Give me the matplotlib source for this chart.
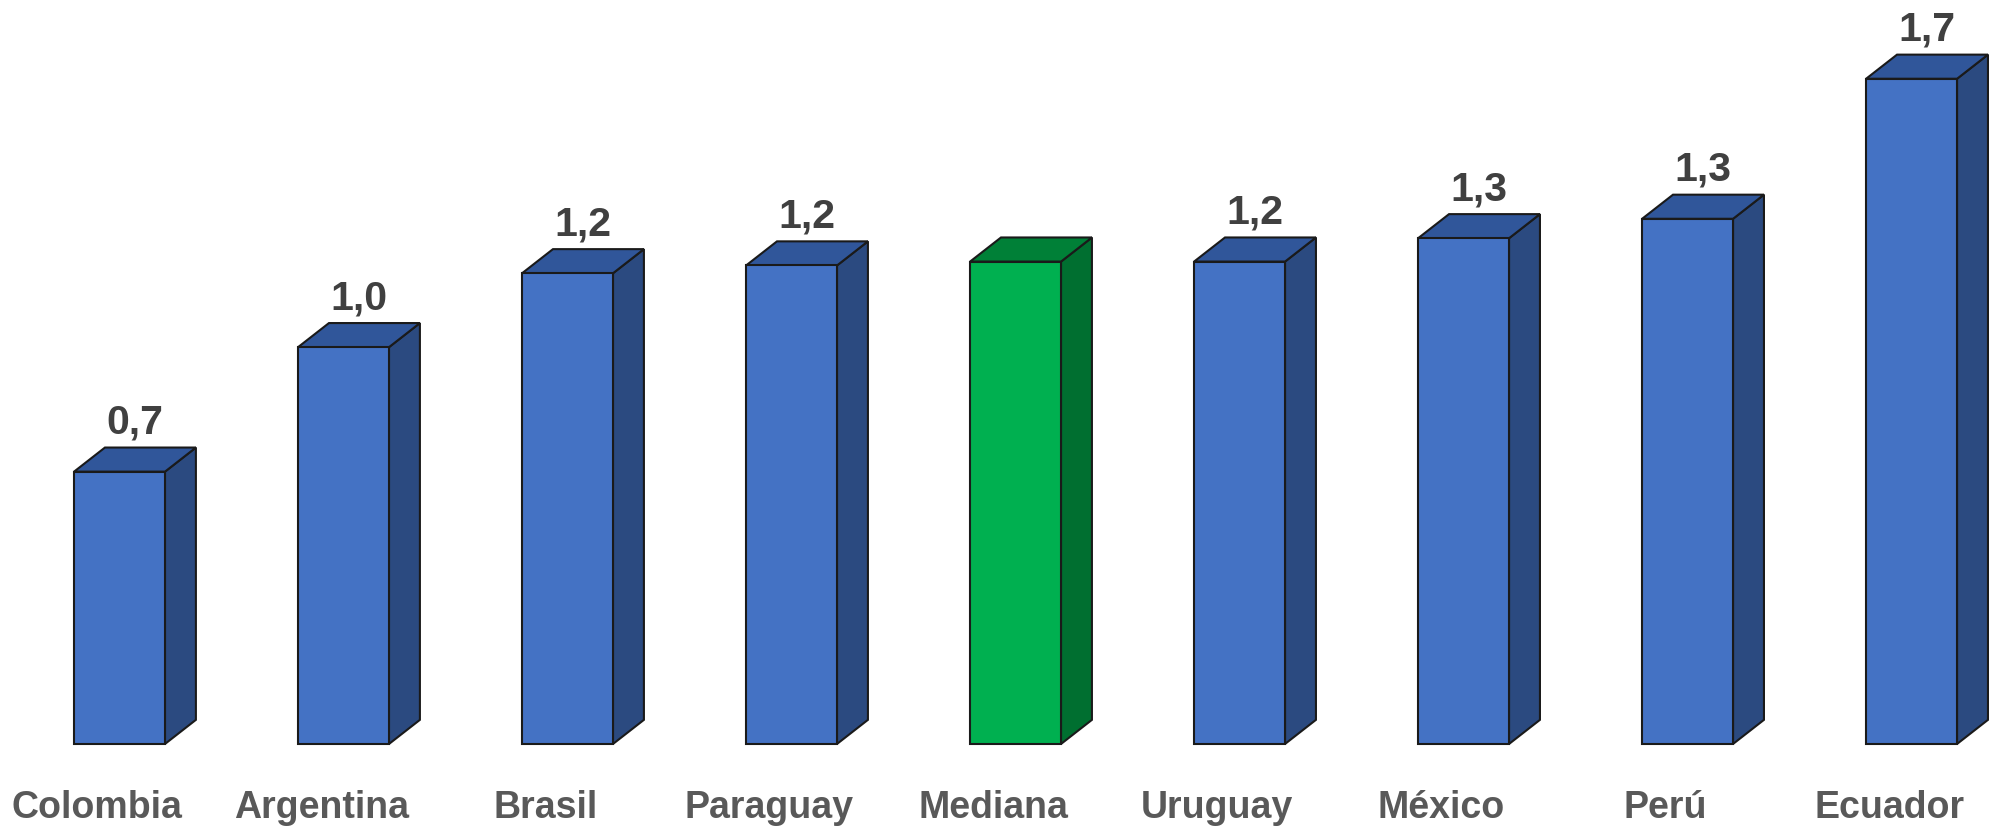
import matplotlib.pyplot as plt
from matplotlib.patches import Polygon, Rectangle

plt.rcParams['font.family'] = ['Liberation Sans', 'DejaVu Sans']

# datos
paises = ['Colombia', 'Argentina', 'Brasil', 'Paraguay', 'Mediana',
          'Uruguay', 'México', 'Perú', 'Ecuador']
valores = [0.70, 1.02, 1.21, 1.23, 1.24, 1.24, 1.30, 1.35, 1.71]
etiquetas = ['0,7', '1,0', '1,2', '1,2', '', '1,2', '1,3', '1,3', '1,7']

azul = ('#4472C4', '#2B4A80', '#30569A')
verde = ('#00B050', '#006F30', '#008037')

fig = plt.figure(figsize=(19.92, 8.29), dpi=100)
ax = fig.add_axes([0, 0, 1, 1])
ax.set_xlim(-0.5335, 8.359)
ax.set_ylim(-0.216, 1.915)
ax.axis('off')

w = 0.406   # ancho del frente
dx = 0.138  # profundidad en x
dy = 0.062  # profundidad en y
borde = '#1a1a1a'

for i, (p, v, et) in enumerate(zip(paises, valores, etiquetas)):
    cf, cs, ct = verde if p == 'Mediana' else azul
    x0 = i - w / 2
    x1 = i + w / 2
    # cara lateral
    ax.add_patch(Polygon([(x1, 0), (x1 + dx, dy), (x1 + dx, v + dy), (x1, v)],
                         closed=True, facecolor=cs, edgecolor=borde, lw=1.5, zorder=2))
    # cara superior
    ax.add_patch(Polygon([(x0, v), (x0 + dx, v + dy), (x1 + dx, v + dy), (x1, v)],
                         closed=True, facecolor=ct, edgecolor=borde, lw=1.5, zorder=2))
    # frente
    ax.add_patch(Rectangle((x0, 0), w, v, facecolor=cf, edgecolor=borde,
                           lw=1.5, zorder=3))
    if et:
        ax.text(i + dx / 2, v + dy + 0.038, et, ha='center', va='baseline',
                fontsize=29.5, fontweight='bold', color='#404040')
    ax.text(i - 0.1, -0.162, p, ha='center', va='center',
            fontsize=27, fontweight='bold', color='#595959')

fig.savefig('out.png', dpi=100)
